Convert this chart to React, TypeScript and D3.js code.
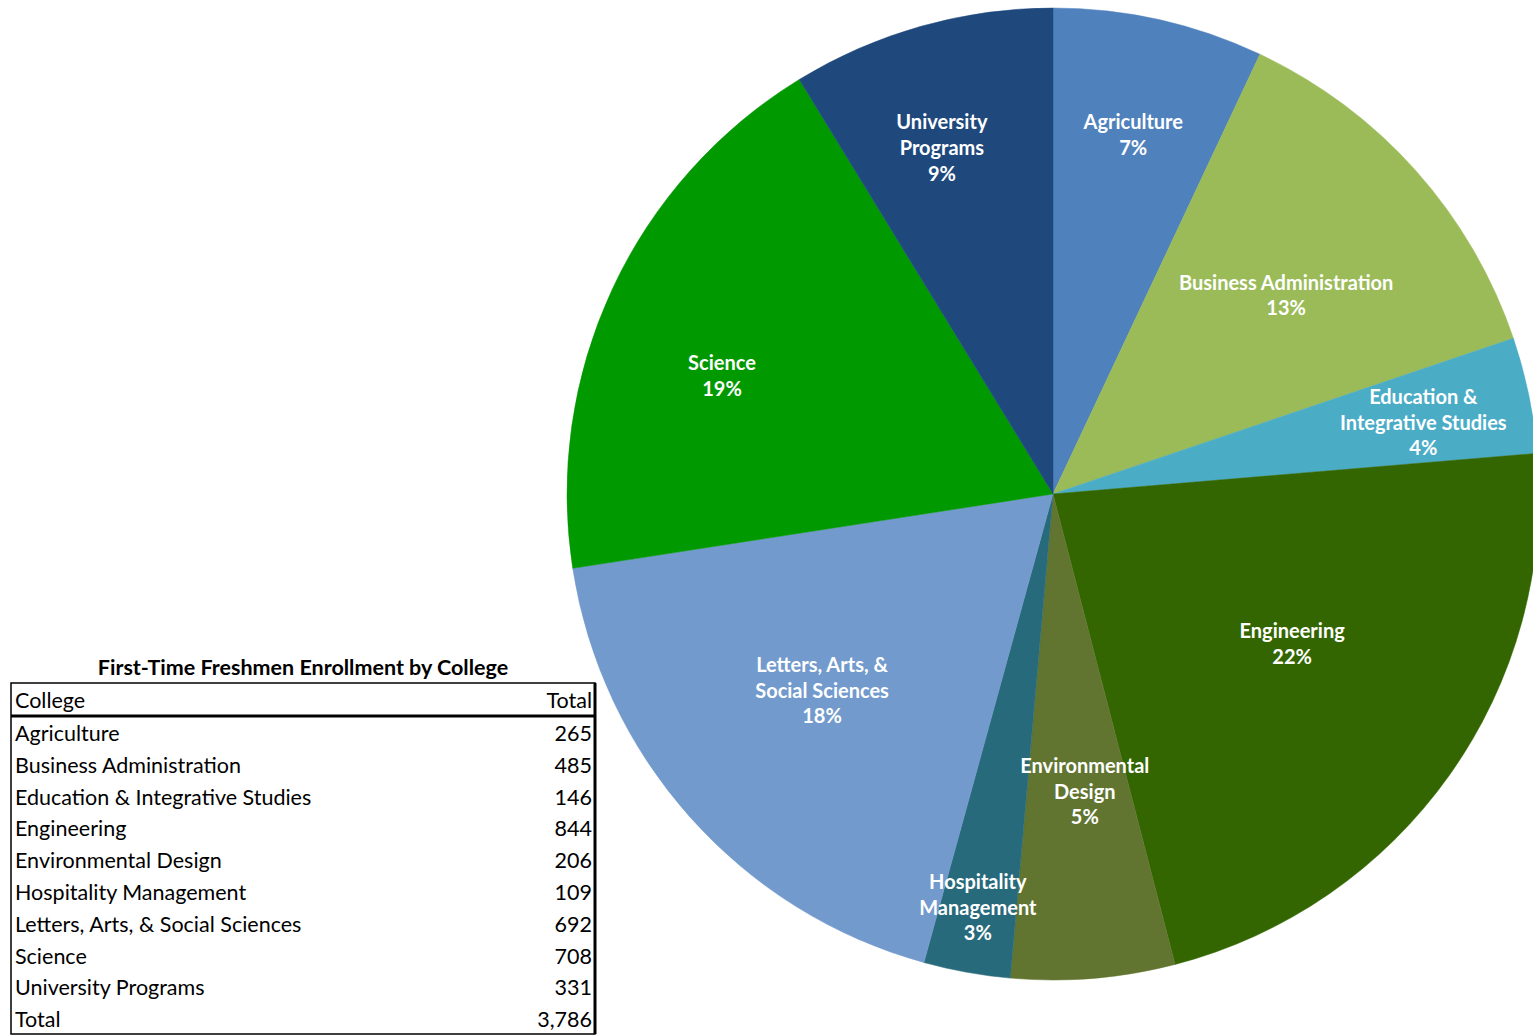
import React from "react";
import * as d3 from "d3";

const colleges = [
  "Agriculture",
  "Business Administration",
  "Education & Integrative Studies",
  "Engineering",
  "Environmental Design",
  "Hospitality Management",
  "Letters, Arts, & Social Sciences",
  "Science",
  "University Programs",
];
const totals = [265, 485, 146, 844, 206, 109, 692, 708, 331];
const labelLines = [
  ["Agriculture"],
  ["Business Administration"],
  ["Education &", "Integrative Studies"],
  ["Engineering"],
  ["Environmental", "Design"],
  ["Hospitality", "Management"],
  ["Letters, Arts, &", "Social Sciences"],
  ["Science"],
  ["University", "Programs"],
];
const sliceColors = [
  "#4F81BD",
  "#9BBB59",
  "#4BACC6",
  "#336600",
  "#617530",
  "#276A7C",
  "#729ACD",
  "#009900",
  "#1F497D",
];
// label placement (fraction of radius and angle shift in degrees), layout only
const labelRadius = [0.757, 0.63, 0.776, 0.581, 0.616, 0.865, 0.624, 0.723, 0.748];
const labelShift = [0, 1.34, 0.84, -3.2, -1.34, 0.08, 1.3, -5.27, -2.06];
const title = "First-Time Freshmen Enrollment by College";

const W = 1533;
const H = 1036;
const cx = 1053;
const cy = 494;
const R = 486;
const FONT = "Lato, 'Open Sans', sans-serif";

export default function App() {
  const sum = d3.sum(totals);
  const pie = d3
    .pie<number>()
    .sort(null)
    .value((d) => d)
    .startAngle(0)
    .endAngle(2 * Math.PI);
  const arcs = pie(totals);
  const arcGen = d3.arc<d3.PieArcDatum<number>>().innerRadius(0).outerRadius(R);
  const fmtPct = d3.format(".0%");
  const fmtNum = d3.format(",");

  const tX0 = 11;
  const tX1 = 595;
  const headerTop = 683;
  const headerBottom = 716;
  const rowH = 31.8;
  const rowsAll = [...colleges.map((c, i) => [c, fmtNum(totals[i])]), ["Total", fmtNum(sum)]];
  const rowY = d3.scaleLinear().domain([0, 1]).range([headerBottom, headerBottom + rowH]);
  const tableBottom = 1034;
  const TFS = 21.5;

  return (
    <svg
      width={W}
      height={H}
      style={{ position: "absolute", left: 0, top: 0, background: "#fff" }}
    >
      <g transform={`translate(${cx},${cy})`}>
        {arcs.map((a, i) => (
          <path key={i} d={arcGen(a) || ""} fill={sliceColors[i]} stroke={sliceColors[i]} strokeWidth={0.5} />
        ))}
        {arcs.map((a, i) => {
          const mid = (a.startAngle + a.endAngle) / 2 + (labelShift[i] * Math.PI) / 180;
          const r = R * labelRadius[i];
          const x = r * Math.sin(mid);
          const y = -r * Math.cos(mid);
          const lines = [...labelLines[i], fmtPct(totals[i] / sum)];
          const lh = 25.7;
          const y0 = y - ((lines.length - 1) * lh) / 2;
          return (
            <text
              key={i}
              textAnchor="middle"
              fontFamily={FONT}
              fontWeight="bold"
              fontSize={20}
              fill="#fff"
            >
              {lines.map((l, j) => (
                <tspan key={j} x={x} y={y0 + j * lh} dy="0.35em">
                  {l}
                </tspan>
              ))}
            </text>
          );
        })}
      </g>

      <text
        x={303}
        y={667}
        dy="0.35em"
        textAnchor="middle"
        fontFamily={FONT}
        fontWeight="bold"
        fontSize={21.5}
        fill="#000"
      >
        {title}
      </text>

      <rect x={tX0} y={headerTop} width={tX1 - tX0} height={tableBottom - headerTop} fill="none" stroke="#000" strokeWidth={1.5} />
      <line x1={tX0} x2={tX1} y1={headerBottom} y2={headerBottom} stroke="#000" strokeWidth={3} />
      <line x1={tX1} x2={tX1} y1={headerTop} y2={tableBottom} stroke="#000" strokeWidth={3} />
      <text x={15} y={700} dy="0.35em" fontFamily={FONT} fontSize={TFS} fill="#000">
        College
      </text>
      <text x={592} y={700} dy="0.35em" textAnchor="end" fontFamily={FONT} fontSize={TFS} fill="#000">
        Total
      </text>
      {rowsAll.map((r, i) => (
        <g key={i}>
          <text x={15} y={rowY(i + 0.55)} dy="0.35em" fontFamily={FONT} fontSize={TFS} fill="#000">
            {r[0]}
          </text>
          <text x={592} y={rowY(i + 0.55)} dy="0.35em" textAnchor="end" fontFamily={FONT} fontSize={TFS} fill="#000">
            {r[1]}
          </text>
        </g>
      ))}
    </svg>
  );
}
